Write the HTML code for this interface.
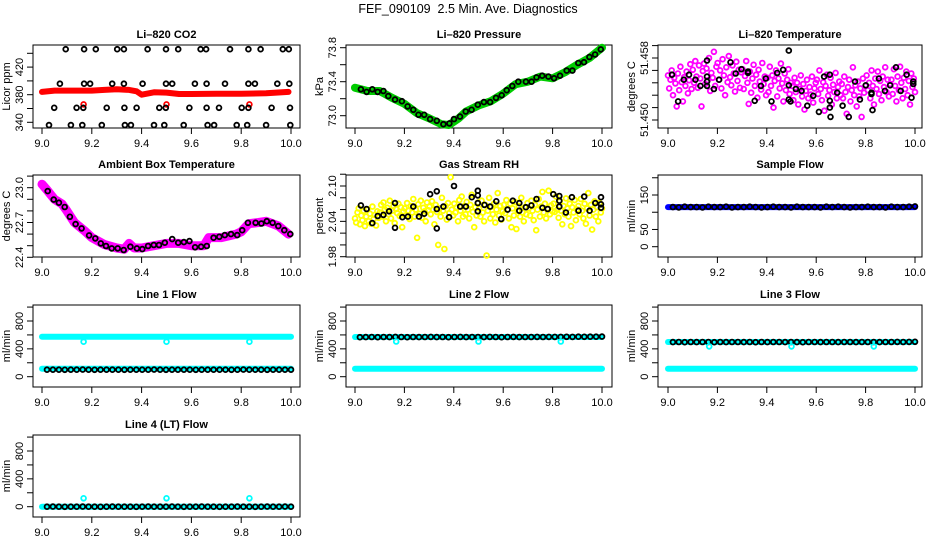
<!DOCTYPE html>
<html><head><meta charset="utf-8"><style>
html,body{margin:0;padding:0;background:#fff;}
svg{display:block;font-family:"Liberation Sans",Arial,sans-serif;}
</style></head><body>
<svg id="chart" width="936" height="540" viewBox="0 0 936 540" xmlns="http://www.w3.org/2000/svg">
<rect x="0" y="0" width="936" height="540" fill="#fff"/>
<text x="468" y="13" font-size="12.5" text-anchor="middle" xml:space="preserve">FEF_090109  2.5 Min. Ave. Diagnostics</text>
</svg>
<script>
// ---------- data ----------
const xTicks = [9.0, 9.2, 9.4, 9.6, 9.8, 10.0];
const xTickLabels = ["9.0", "9.2", "9.4", "9.6", "9.8", "10.0"];

// Li-820 CO2
const co2BandTimes = [9.0, 9.05, 9.1, 9.15, 9.2, 9.25, 9.3, 9.35, 9.38, 9.4, 9.45, 9.5, 9.55, 9.6, 9.7, 9.8, 9.9, 9.99];
const co2BandValues = [384, 386, 386, 386, 386, 387, 388, 387, 385, 380, 383.5, 383, 381, 381, 381.5, 381.5, 382, 384];
const co2RedOutTimes = [9.167, 9.5, 9.833];
const co2RedOutValues = [366, 366, 366];
const co2BlackTimes = [9.095,9.169,9.216,9.302,9.329,9.424,9.498,9.547,9.637,9.659,9.755,9.829,9.878,9.967,9.991,
 9.072,9.169,9.193,9.282,9.329,9.404,9.498,9.523,9.614,9.661,9.735,9.829,9.855,9.945,9.993,
 9.049,9.139,9.166,9.260,9.331,9.380,9.471,9.497,9.592,9.661,9.711,9.802,9.829,9.922,9.996,
 9.028,9.116,9.162,9.240,9.333,9.357,9.450,9.491,9.569,9.665,9.691,9.782,9.824,9.900,9.997];
const co2BlackValues = [446,446,446,446,446,446,446,446,446,446,446,446,446,446,446,
 396,396,396,396,396,396,396,396,396,396,396,396,396,396,396,
 361,361,361,361,361,361,361,361,361,361,361,361,361,361,361,
 336,336,336,336,336,336,336,336,336,336,336,336,336,336,336];

// Li-820 Pressure
const presBandTimes = [9.0,9.05,9.1,9.15,9.2,9.25,9.3,9.35,9.38,9.42,9.45,9.5,9.55,9.6,9.65,9.7,9.75,9.8,9.85,9.9,9.95,10.0];
const presBandValues = [73.33,73.29,73.29,73.21,73.14,73.03,72.97,72.90,72.89,72.97,73.05,73.12,73.17,73.26,73.37,73.40,73.46,73.44,73.51,73.60,73.68,73.80];
const presBlackTimes = [9.024,9.047,9.070,9.092,9.115,9.135,9.162,9.190,9.213,9.236,9.257,9.280,9.304,9.331,9.358,9.382,9.401,9.425,9.448,9.472,9.497,9.522,9.547,9.571,9.594,9.614,9.637,9.661,9.692,9.715,9.735,9.758,9.783,9.806,9.830,9.857,9.880,9.904,9.927,9.949,9.972,9.995];
const presBlackValues = [73.31,73.28,73.31,73.28,73.29,73.23,73.19,73.17,73.11,73.07,73.01,73.01,72.96,72.94,72.90,72.91,72.96,72.99,73.05,73.07,73.13,73.16,73.16,73.21,73.24,73.30,73.35,73.40,73.40,73.40,73.45,73.47,73.46,73.44,73.47,73.53,73.53,73.62,73.63,73.69,73.72,73.78];

// Li-820 Temperature
const tempCloudValues = [
51.4552,51.4531,51.4545,51.4560,51.4520,51.4548,51.4539,51.4502,51.4555,51.4528,51.4566,51.4541,51.4510,51.4549,51.4535,51.4558,51.4523,51.4544,51.4570,51.4530,
51.4561,51.4540,51.4575,51.4550,51.4532,51.4568,51.4547,51.4502,51.4559,51.4571,51.4538,51.4563,51.4544,51.4580,51.4527,51.4556,51.4548,51.4590,51.4535,51.4566,
51.4572,51.4545,51.4560,51.4531,51.4578,51.4552,51.4520,51.4565,51.4541,51.4583,51.4549,51.4536,51.4568,51.4555,51.4526,51.4574,51.4543,51.4561,51.4532,51.4557,
51.4562,51.4530,51.4551,51.4575,51.4540,51.4506,51.4558,51.4524,51.4547,51.4569,51.4535,51.4553,51.4516,51.4561,51.4542,51.4529,51.4572,51.4538,51.4550,51.4520,
51.4548,51.4525,51.4566,51.4535,51.4552,51.4500,51.4543,51.4560,51.4518,51.4547,51.4531,51.4571,51.4539,51.4510,51.4555,51.4528,51.4545,51.4562,51.4522,51.4540,
51.4535,51.4512,51.4548,51.4525,51.4540,51.4505,51.4530,51.4552,51.4518,51.4538,51.4497,51.4527,51.4545,51.4515,51.4533,51.4521,51.4550,51.4508,51.4531,51.4540,
51.4545,51.4522,51.4560,51.4530,51.4512,51.4541,51.4495,51.4535,51.4553,51.4519,51.4528,51.4548,51.4505,51.4537,51.4525,51.4556,51.4515,51.4533,51.4542,51.4520,
51.4538,51.4515,51.4550,51.4525,51.4490,51.4533,51.4545,51.4510,51.4528,51.4565,51.4520,51.4536,51.4502,51.4542,51.4518,51.4531,51.4485,51.4547,51.4524,51.4535,
51.4552,51.4528,51.4540,51.4515,51.4560,51.4535,51.4505,51.4547,51.4530,51.4558,51.4522,51.4543,51.4512,51.4550,51.4533,51.4565,51.4525,51.4545,51.4518,51.4538,
51.4545,51.4522,51.4562,51.4535,51.4510,51.4550,51.4528,51.4566,51.4540,51.4515,51.4548,51.4530,51.4558,51.4520,51.4543,51.4505,51.4555,51.4533,51.4547,51.4525];
const tempBlackTimes = [9.016,9.041,9.064,9.085,9.111,9.131,9.158,9.158,9.158,9.158,9.186,9.207,9.253,9.274,9.297,9.324,9.324,9.351,9.376,9.396,9.419,9.442,9.466,9.489,9.489,9.489,9.496,9.518,9.541,9.564,9.588,9.611,9.632,9.655,9.655,9.655,9.658,9.685,9.707,9.732,9.757,9.777,9.801,9.824,9.824,9.828,9.854,9.878,9.899,9.923,9.942,9.966,9.986,9.993,9.993];
const tempBlackValues = [51.4553,51.4510,51.4545,51.4553,51.4545,51.4535,51.4576,51.4550,51.4542,51.4535,51.4530,51.4545,51.4573,51.4555,51.4562,51.4558,51.4556,51.4511,51.4535,51.4547,51.4510,51.4556,51.4561,51.4592,51.4536,51.4513,51.4510,51.4530,51.4527,51.4503,51.4519,51.4493,51.4550,51.4553,51.4511,51.4500,51.4485,51.4524,51.4503,51.4485,51.4542,51.4513,51.4536,51.4522,51.4524,51.4496,51.4547,51.4527,51.4536,51.4565,51.4527,51.4553,51.4516,51.4542,51.4538];

// Ambient Box Temperature
const ambBandTimes = [9.0,9.02,9.05,9.08,9.1,9.13,9.17,9.2,9.25,9.3,9.33,9.35,9.37,9.4,9.45,9.5,9.55,9.6,9.65,9.67,9.72,9.78,9.8,9.83,9.87,9.9,9.95,9.99];
const ambBandValues = [23.03,22.98,22.90,22.86,22.80,22.70,22.63,22.57,22.51,22.48,22.47,22.52,22.48,22.48,22.50,22.52,22.52,22.50,22.50,22.57,22.57,22.60,22.62,22.69,22.70,22.71,22.67,22.60];
const ambBlackTimes = [9.023,9.047,9.068,9.091,9.112,9.135,9.159,9.189,9.214,9.236,9.257,9.280,9.304,9.328,9.355,9.381,9.403,9.426,9.449,9.470,9.493,9.523,9.547,9.570,9.592,9.615,9.639,9.662,9.689,9.712,9.734,9.759,9.784,9.804,9.827,9.858,9.881,9.903,9.926,9.949,9.973,9.997];
const ambBlackValues = [22.971,22.897,22.871,22.834,22.749,22.686,22.649,22.589,22.563,22.520,22.497,22.477,22.477,22.463,22.491,22.477,22.471,22.497,22.506,22.506,22.526,22.557,22.526,22.531,22.540,22.486,22.491,22.497,22.569,22.577,22.591,22.600,22.591,22.634,22.697,22.697,22.691,22.711,22.697,22.669,22.634,22.600];

// Gas Stream RH
const rhCloudValues = [
2.045,2.038,2.055,2.062,2.035,2.050,2.042,2.058,2.032,2.048,2.060,2.040,2.053,2.036,2.065,2.044,2.051,2.033,2.057,2.046,
2.055,2.068,2.048,2.072,2.060,2.040,2.063,2.052,2.075,2.045,2.058,2.066,2.037,2.061,2.054,2.070,2.049,2.064,2.030,2.057,
2.062,2.050,2.071,2.058,2.044,2.066,2.055,2.078,2.048,2.060,2.012,2.069,2.053,2.075,2.046,2.063,2.057,2.040,2.072,2.059,
2.065,2.052,2.074,2.060,2.035,2.068,2.056,2.000,2.062,2.048,2.080,2.058,1.993,2.066,2.043,2.071,2.054,2.115,2.060,2.050,
2.070,2.055,2.064,2.040,2.076,2.058,2.082,2.048,2.066,2.052,2.073,2.060,2.045,2.068,2.085,2.056,2.030,2.064,2.050,2.072,
2.062,2.048,2.075,2.055,2.040,2.068,1.982,2.058,2.080,2.045,2.065,2.052,2.070,2.038,2.060,2.088,2.050,2.066,2.043,2.057,
2.068,2.054,2.076,2.060,2.045,2.070,2.030,2.062,2.050,2.073,2.027,2.058,2.066,2.048,2.080,2.055,2.040,2.064,2.052,2.071,
2.062,2.050,2.075,2.058,2.042,2.068,2.025,2.060,2.078,2.048,2.065,2.090,2.055,2.070,2.045,2.062,2.092,2.052,2.067,2.057,
2.070,2.056,2.082,2.060,2.046,2.074,2.058,2.035,2.066,2.052,2.079,2.062,2.048,2.070,2.032,2.064,2.055,2.076,2.042,2.060,
2.066,2.052,2.078,2.058,2.045,2.070,2.036,2.062,2.088,2.050,2.068,2.026,2.060,2.074,2.048,2.064,2.040,2.071,2.055,2.062];
const rhBlackTimes = [9.024,9.047,9.070,9.092,9.115,9.138,9.162,9.162,9.192,9.214,9.236,9.259,9.280,9.304,9.331,9.331,9.331,9.358,9.381,9.401,9.426,9.449,9.473,9.497,9.497,9.497,9.497,9.524,9.547,9.572,9.592,9.618,9.639,9.665,9.665,9.692,9.714,9.735,9.759,9.780,9.803,9.827,9.827,9.827,9.854,9.878,9.905,9.928,9.950,9.973,9.996,9.996,9.996];
const rhBlackValues = [2.067,2.061,2.037,2.049,2.051,2.057,2.071,2.029,2.047,2.048,2.065,2.048,2.053,2.086,2.091,2.061,2.028,2.065,2.047,2.100,2.065,2.065,2.081,2.084,2.092,2.057,2.071,2.068,2.065,2.074,2.044,2.060,2.075,2.071,2.058,2.064,2.067,2.078,2.063,2.061,2.086,2.083,2.075,2.065,2.055,2.081,2.058,2.082,2.058,2.071,2.081,2.069,2.063];

// Sample Flow
const sampleBandTimes = [9.0, 9.5, 10.0];
const sampleBandValues = [115, 115, 115];
const sampleBlackValues = [115,114,116,115,115,114,116,115,115,116,114,115,115,116,115,114,115,116,115,115,114,116,115,115,115,114,116,115,116,115,114,115,115,116,115,115,114,116,115,115,116,117];

// Line flows
const line1CyanHighTimes = [9.0, 10.0];
const line1CyanHighValues = [575, 575];
const line1CyanLowTimes = [9.0, 10.0];
const line1CyanLowValues = [115, 115];
const line1DipTimes = [9.167, 9.5, 9.833];
const line1DipValues = [503, 503, 503];
const line1BlackValues = [100,100,101,99,100,100,102,100,99,100,101,100,100,99,100,101,100,100,102,100,99,100,100,101,100,99,100,100,101,100,100,99,100,102,100,100,101,99,100,100,101,100];

const line2CyanHighTimes = [9.0, 10.0];
const line2CyanHighValues = [570, 570];
const line2CyanLowTimes = [9.0, 10.0];
const line2CyanLowValues = [115, 115];
const line2DipTimes = [9.167, 9.5, 9.833];
const line2DipValues = [505, 505, 505];
const line2BlackValues = [568,569,570,568,570,569,571,570,568,570,569,570,571,569,570,568,570,571,569,570,570,569,571,570,568,570,571,569,570,570,572,570,571,572,571,573,572,574,573,574,575,576];

const line3CyanHighTimes = [9.0, 10.0];
const line3CyanHighValues = [498, 498];
const line3CyanLowTimes = [9.0, 10.0];
const line3CyanLowValues = [115, 115];
const line3DipTimes = [9.167, 9.5, 9.833];
const line3DipValues = [435, 435, 435];
const line3BlackValues = [497,498,496,498,497,499,498,496,498,497,498,499,497,498,496,498,497,498,499,497,498,497,496,498,499,497,498,498,497,499,498,497,498,499,498,497,499,498,500,499,500,501];

const line4CyanHighTimes = [9.0, 10.0];
const line4CyanHighValues = [0, 0];
const line4DipTimes = [9.167, 9.5, 9.833];
const line4DipValues = [121, 121, 121];
const line4BlackValues = [0,1,0,-1,0,0,1,0,0,-1,0,1,0,0,0,-1,0,1,0,0,0,1,0,-1,0,0,1,0,0,-1,0,0,1,0,0,-1,0,1,0,0,1,0];

// ---------- layout ----------
const C1 = {bx:33, bw:267, x0:42, x1:291};
const C2 = {bx:346, bw:266, x0:355, x1:602};
const C3 = {bx:658, bw:264, x0:668, x1:915};
const panels = {
  co2:  Object.assign({name:'co2', title:'Li\u2013820 CO2', ylab:'Licor ppm', by:45, bh:83, v1:340, p1:122.3, v2:420, p2:67.1, ticks:[340,360,380,400,420,440], tl:{340:'340',380:'380',420:'420'}}, C1),
  pres: Object.assign({name:'pressure', title:'Li\u2013820 Pressure', ylab:'kPa', by:45, bh:83, v1:73.0, p1:115.7, v2:73.8, p2:47.7, ticks:[73.0,73.2,73.4,73.6,73.8], tl:{'73':'73.0','73.4':'73.4','73.8':'73.8'}}, C2),
  temp: Object.assign({name:'temperature', title:'Li\u2013820 Temperature', ylab:'degrees C', by:45, bh:83, v1:51.448, p1:120, v2:51.460, p2:45.6, ticks:[51.448,51.450,51.452,51.454,51.456,51.458,51.460], tl:{'51.448':'51.450','51.458':'51.458'}}, C3),
  amb:  Object.assign({name:'ambient', title:'Ambient Box Temperature', ylab:'degrees C', by:175, bh:82, v1:22.4, p1:257.3, v2:23.0, p2:187.7, ticks:[22.4,22.5,22.6,22.7,22.8,22.9,23.0,23.1], tl:{'22.4':'22.4','22.7':'22.7','23':'23.0'}}, C1),
  rh:   Object.assign({name:'rh', title:'Gas Stream RH', ylab:'percent', by:175, bh:82, v1:1.98, p1:256.7, v2:2.10, p2:186, ticks:[1.98,2.00,2.02,2.04,2.06,2.08,2.10,2.12], tl:{'1.98':'1.98','2.04':'2.04','2.1':'2.10'}}, C2),
  samp: Object.assign({name:'sample-flow', title:'Sample Flow', ylab:'ml/min', by:175, bh:82, v1:0, p1:246.7, v2:150, p2:195, ticks:[0,50,100,150,200], tl:{'0':'0','50':'50','150':'150'}}, C3),
  l1:   Object.assign({name:'line1-flow', title:'Line 1 Flow', ylab:'ml/min', by:305, bh:82, v1:0, p1:376.7, v2:800, p2:321, ticks:[0,200,400,600,800,1000], tl:{'0':'0','400':'400','800':'800'}}, C1),
  l2:   Object.assign({name:'line2-flow', title:'Line 2 Flow', ylab:'ml/min', by:305, bh:82, v1:0, p1:376.7, v2:800, p2:321, ticks:[0,200,400,600,800,1000], tl:{'0':'0','400':'400','800':'800'}}, C2),
  l3:   Object.assign({name:'line3-flow', title:'Line 3 Flow', ylab:'ml/min', by:305, bh:82, v1:0, p1:376.7, v2:800, p2:321, ticks:[0,200,400,600,800,1000], tl:{'0':'0','400':'400','800':'800'}}, C3),
  l4:   Object.assign({name:'line4-flow', title:'Line 4 (LT) Flow', ylab:'ml/min', by:435, bh:82, v1:0, p1:506.7, v2:800, p2:451, ticks:[0,200,400,600,800,1000], tl:{'0':'0','400':'400','800':'800'}}, C1)
};

const NS = 'http://www.w3.org/2000/svg';
const svg = document.getElementById('chart');
function el(tag, parent, attrs){
  const e = document.createElementNS(NS, tag);
  for (const k in attrs) e.setAttribute(k, attrs[k]);
  parent.appendChild(e);
  return e;
}
function xs(p, t){ return p.x0 + (t - 9) * (p.x1 - p.x0); }
function ys(p, v){ return p.p1 + (v - p.v1) * (p.p2 - p.p1) / (p.v2 - p.v1); }
function gridT(n, i, start){ const s = (start === undefined) ? 9.0 : start; return s + i * (10.0 - s) / (n - 1); }

function drawFrame(p){
  const g = el('g', svg, {});
  
  
  const t = el('text', g, {x: p.bx + p.bw/2, y: p.by - 7, 'font-size': 11, 'font-weight': 'bold', 'text-anchor': 'middle'});
  t.textContent = p.title;
  
  
  const box = el('rect', g, {x: p.bx, y: p.by, width: p.bw, height: p.bh, fill: 'none', stroke: '#000', 'stroke-width': 1});
  
  
  const xa = el('g', g, {});
  
  
  const yb = p.by + p.bh;
  el('line', xa, {x1: xs(p, xTicks[0]), x2: xs(p, xTicks[xTicks.length-1]), y1: yb, y2: yb, stroke: '#000'});
  xTicks.forEach((tv, i) => {
    const x = xs(p, tv);
    el('line', xa, {x1: x, x2: x, y1: yb, y2: yb + 6, stroke: '#000'});
    const lab = el('text', xa, {x: x, y: yb + 19, 'font-size': 11, 'text-anchor': 'middle'});
    lab.textContent = xTickLabels[i];
    
    
  });
  const ya = el('g', g, {});
  
  
  const ty0 = ys(p, p.ticks[0]), ty1 = ys(p, p.ticks[p.ticks.length-1]);
  el('line', ya, {x1: p.bx, x2: p.bx, y1: ty0, y2: ty1, stroke: '#000'});
  p.ticks.forEach(tv => {
    const y = ys(p, tv);
    el('line', ya, {x1: p.bx - 6, x2: p.bx, y1: y, y2: y, stroke: '#000'});
    const key = String(+tv.toFixed(4));
    if (p.tl[key] !== undefined) {
      const lx = p.bx - 10;
      const lab = el('text', ya, {x: lx, y: y, 'font-size': 11, 'text-anchor': 'middle', transform: 'rotate(-90 ' + lx + ' ' + y + ')'});
      lab.textContent = p.tl[key];
      
      
    }
  });
  const yl = p.bx - 23, ym = p.by + p.bh/2;
  const yt = el('text', ya, {x: yl, y: ym, 'font-size': 11, 'text-anchor': 'middle', transform: 'rotate(-90 ' + yl + ' ' + ym + ')'});
  yt.textContent = p.ylab;
  
  
  return g;
}

function band(p, g, times, vals, color, w, nm){
  const pts = times.map((t, i) => xs(p, t).toFixed(1) + ',' + ys(p, vals[i]).toFixed(1)).join(' ');
  const pl = el('polyline', g, {points: pts, fill: 'none', stroke: color, 'stroke-width': w, 'stroke-linecap': 'round', 'stroke-linejoin': 'round'});
  
  
}
function points(p, g, times, vals, color, nm){
  const gg = el('g', g, {});
  
  
  vals.forEach((v, i) => {
    const c = el('circle', gg, {cx: xs(p, times[i]).toFixed(1), cy: ys(p, v).toFixed(1), r: 2.4, fill: 'none', stroke: color, 'stroke-width': 1.8});
    
    
  });
}
function gridPoints(p, g, vals, color, nm, start){
  const ts = vals.map((v, i) => gridT(vals.length, i, start));
  points(p, g, ts, vals, color, nm);
}

let g = drawFrame(panels.co2);
band(panels.co2, g, co2BandTimes, co2BandValues, '#ff0000', 6, 'co2-red-band');
points(panels.co2, g, co2RedOutTimes, co2RedOutValues, '#ff0000', 'co2-red-outliers');
points(panels.co2, g, co2BlackTimes, co2BlackValues, '#000', 'co2-black-series');

g = drawFrame(panels.pres);
band(panels.pres, g, presBandTimes, presBandValues, '#00cc00', 8, 'pressure-green-band');
points(panels.pres, g, presBlackTimes, presBlackValues, '#000', 'pressure-black-series');

g = drawFrame(panels.temp);
gridPoints(panels.temp, g, tempCloudValues, '#ff00ff', 'temperature-magenta-series');
points(panels.temp, g, tempBlackTimes, tempBlackValues, '#000', 'temperature-black-series');

g = drawFrame(panels.amb);
band(panels.amb, g, ambBandTimes, ambBandValues, '#ff00ff', 9, 'ambient-magenta-band');
points(panels.amb, g, ambBlackTimes, ambBlackValues, '#000', 'ambient-black-series');

g = drawFrame(panels.rh);
gridPoints(panels.rh, g, rhCloudValues, '#ffff00', 'rh-yellow-series');
points(panels.rh, g, rhBlackTimes, rhBlackValues, '#000', 'rh-black-series');

g = drawFrame(panels.samp);
band(panels.samp, g, sampleBandTimes, sampleBandValues, '#0000ff', 6, 'sample-blue-band');
gridPoints(panels.samp, g, sampleBlackValues, '#000', 'sample-black-series', 9.02);

g = drawFrame(panels.l1);
band(panels.l1, g, line1CyanHighTimes, line1CyanHighValues, '#00ffff', 6, 'line1-cyan-high-band');
band(panels.l1, g, line1CyanLowTimes, line1CyanLowValues, '#00ffff', 6, 'line1-cyan-low-band');
gridPoints(panels.l1, g, line1BlackValues, '#000', 'line1-black-series', 9.02);
points(panels.l1, g, line1DipTimes, line1DipValues, '#00ffff', 'line1-cyan-dips');

g = drawFrame(panels.l2);
band(panels.l2, g, line2CyanHighTimes, line2CyanHighValues, '#00ffff', 6, 'line2-cyan-high-band');
band(panels.l2, g, line2CyanLowTimes, line2CyanLowValues, '#00ffff', 6, 'line2-cyan-low-band');
gridPoints(panels.l2, g, line2BlackValues, '#000', 'line2-black-series', 9.02);
points(panels.l2, g, line2DipTimes, line2DipValues, '#00ffff', 'line2-cyan-dips');

g = drawFrame(panels.l3);
band(panels.l3, g, line3CyanHighTimes, line3CyanHighValues, '#00ffff', 6, 'line3-cyan-high-band');
band(panels.l3, g, line3CyanLowTimes, line3CyanLowValues, '#00ffff', 6, 'line3-cyan-low-band');
gridPoints(panels.l3, g, line3BlackValues, '#000', 'line3-black-series', 9.02);
points(panels.l3, g, line3DipTimes, line3DipValues, '#00ffff', 'line3-cyan-dips');

g = drawFrame(panels.l4);
band(panels.l4, g, line4CyanHighTimes, line4CyanHighValues, '#00ffff', 6, 'line4-cyan-band');
gridPoints(panels.l4, g, line4BlackValues, '#000', 'line4-black-series', 9.02);
points(panels.l4, g, line4DipTimes, line4DipValues, '#00ffff', 'line4-cyan-spikes');
</script>
</body></html>
